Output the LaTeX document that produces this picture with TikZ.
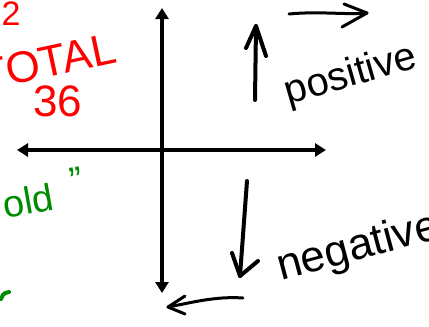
\documentclass[tikz,border=0pt]{standalone}
\usepackage{fontspec}
\setmainfont{Liberation Sans}
\usetikzlibrary{arrows.meta}
\definecolor{inkred}{RGB}{255,0,0}
\definecolor{inkgreen}{RGB}{0,140,0}
\tikzset{
  axis/.style={line width=3.5pt,-{Triangle[length=11pt,width=13pt]}},
  pen/.style={line width=4pt,line cap=round,line join=round},
  hand/.style={inner sep=0pt,font=\fontsize{#1}{#1}\selectfont},
}
\begin{document}
\begin{tikzpicture}[x=1pt,y=-1pt]
\useasboundingbox (0,0) rectangle (429,327);
\clip (0,0) rectangle (429,327);
% axes
\coordinate (o) at (162,150);
\coordinate (top) at (162,8);
\coordinate (bot) at (162,293);
\coordinate (left) at (17,150);
\coordinate (right) at (326,150);
\draw[axis] (o) -- (top);
\draw[axis] (o) -- (bot);
\draw[axis] (o) -- (left);
\draw[axis] (o) -- (right);
% up arrow
\coordinate (u1) at (255,100);
\coordinate (u2) at (256,26);
\draw[pen] (u1) -- (u2);
\draw[pen] (246,48) -- (u2) -- (266,56);
% right arrow top
\coordinate (r1) at (289,14);
\coordinate (r2) at (367,13);
\draw[pen,line width=3pt] (r1) .. controls (320,11) and (345,15) .. (r2);
\draw[pen,line width=3pt] (344,4) -- (r2) -- (342,27);
% down arrow
\coordinate (d1) at (247,181);
\coordinate (d2) at (240,276);
\draw[pen] (d1) -- (d2);
\draw[pen] (232,253) -- (d2) -- (258,261);
% left arrow bottom
\coordinate (l1) at (243,298);
\coordinate (l2) at (168,307);
\draw[pen,line width=3pt] (l1) .. controls (215,296) and (190,303) .. (l2);
\draw[pen,line width=3pt] (185,296) -- (l2) -- (185,314);
% labels
\node[hand=40,rotate=16] (pos) at (351,76) {positive};
\node[hand=44,rotate=15,anchor=west] (neg) at (278,270) {negative};
\node[hand=44,text=inkred,rotate=12] (total) at (48,62) {TOTAL};
\node[hand=44,text=inkred] (n36) at (58,101) {36};
\node[hand=34,text=inkred] (n2) at (11,14) {2};
\node[hand=38,text=inkgreen,rotate=10,anchor=west] (old) at (2,200) {old\,\,\,\raisebox{12pt}{"}};
\draw[pen,inkgreen] (1,299) .. controls (3,293) and (6,292) .. (9,292);
\end{tikzpicture}
\end{document}
